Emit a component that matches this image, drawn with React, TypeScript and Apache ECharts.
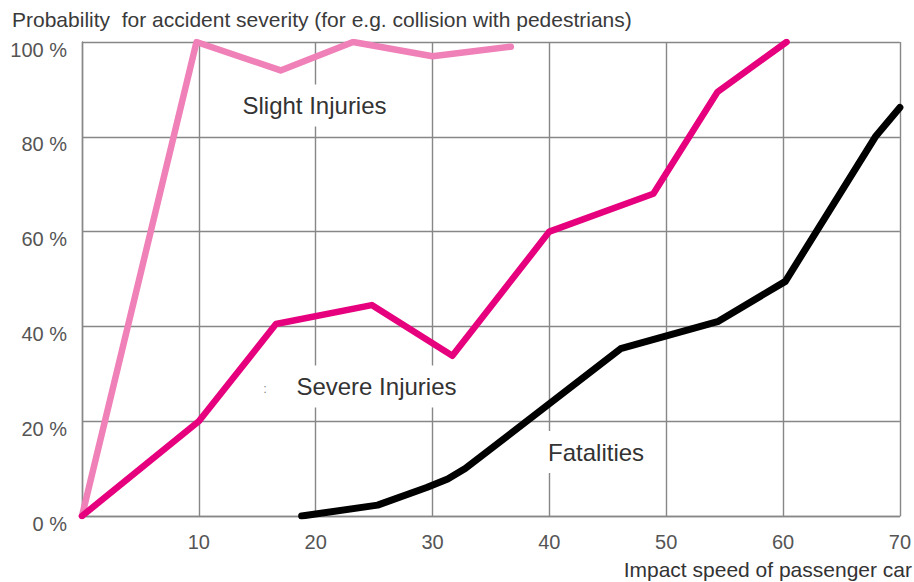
import React, { useEffect, useRef } from "react";
import * as echarts from "echarts";

// Impact speed (km/h) and probability (%)
const slightSpeed = [0, 9.8, 17, 23.2, 30, 36.7];
const slightProb = [0, 100, 94, 100, 97, 99];

const severeSpeed = [0, 10, 16.6, 24.8, 31.7, 40, 48.9, 54.4, 60.3];
const severeProb = [0, 20, 40.5, 44.5, 33.8, 60, 68, 89.5, 100];

const fatalSpeed = [18.8, 25.3, 29.5, 31.3, 32.8, 46.1, 54.4, 60.2, 67.9, 70];
const fatalProb = [0, 2.3, 6, 7.8, 10, 35.3, 41, 49.5, 80, 86.2];

const xTicks = [0, 10, 20, 30, 40, 50, 60, 70];
const yTicks = [0, 20, 40, 60, 80, 100];

const titleText = "Probability  for accident severity (for e.g. collision with pedestrians)";
const xAxisName = "Impact speed of passenger car";

// series labels placed in data coordinates [speed, probability]
const labelNames = ["Slight Injuries", "Severe Injuries", "Fatalities"];
const labelSpeed = [19.9, 25.2, 44.0];
const labelProb = [86.6, 27.3, 13.5];

const FONT = "'Liberation Sans', Arial, sans-serif";
const NARROW = "'Liberation Sans Narrow', 'Arial Narrow', 'Liberation Sans', sans-serif";

const zip = (xs: number[], ys: number[]) => xs.map((x, i) => [x, ys[i]]);

export default function App() {
  const ref = useRef<HTMLDivElement>(null);
  useEffect(() => {
    if (!ref.current) return;
    const chart = echarts.init(ref.current, undefined, { renderer: "svg" });
    const gridColor = "#878787";
    chart.setOption({
      animation: false,
      backgroundColor: "#ffffff",
      grid: { left: 82, right: 13, top: 42, bottom: 66 },
      xAxis: {
        type: "value",
        min: xTicks[0],
        max: xTicks[xTicks.length - 1],
        interval: 10,
        axisLine: { show: true, lineStyle: { color: gridColor, width: 1.4 } },
        axisTick: { show: false },
        splitLine: { show: true, lineStyle: { color: gridColor, width: 1.4 } },
        axisLabel: {
          formatter: (v: number) => (v === 0 ? "" : String(v)),
          fontFamily: NARROW,
          fontSize: 20,
          color: "#555555",
          margin: 16,
          showMaxLabel: true,
        },
      },
      yAxis: {
        type: "value",
        min: yTicks[0],
        max: yTicks[yTicks.length - 1],
        interval: 20,
        axisLine: { show: true, lineStyle: { color: gridColor, width: 1.4 } },
        axisTick: { show: false },
        splitLine: { show: true, lineStyle: { color: gridColor, width: 1.4 } },
        axisLabel: {
          formatter: (v: number) => v + " %",
          fontFamily: NARROW,
          fontSize: 20,
          color: "#555555",
          margin: 15,
          verticalAlign: "top",
          lineHeight: 15,
        },
      },
      series: [
        {
          name: "Slight Injuries",
          type: "line",
          data: zip(slightSpeed, slightProb),
          symbol: "none",
          z: 3,
          lineStyle: { color: "#ef80b8", width: 6.5, cap: "round", join: "round" },
        },
        {
          name: "Severe Injuries",
          type: "line",
          data: zip(severeSpeed, severeProb),
          symbol: "none",
          z: 4,
          lineStyle: { color: "#e6007e", width: 6.5, cap: "round", join: "round" },
        },
        {
          name: "Fatalities",
          type: "line",
          data: zip(fatalSpeed, fatalProb),
          symbol: "none",
          z: 5,
          lineStyle: { color: "#000000", width: 7, cap: "round", join: "round" },
        },
      ],
    });

    const labels = labelNames.map((name, i) => {
      const p = chart.convertToPixel({ gridIndex: 0 }, [labelSpeed[i], labelProb[i]]) as number[];
      return {
        type: "text",
        x: p[0],
        y: p[1],
        z: 10,
        style: {
          text: name,
          fontFamily: FONT,
          fontSize: 24,
          fill: "#333333",
          align: "center",
          verticalAlign: "middle",
          backgroundColor: "#ffffff",
          padding: [9, 12, 9, 12],
        },
      };
    });

    chart.setOption({
      graphic: [
        {
          type: "text",
          left: 12,
          top: 9,
          style: { text: titleText, fontFamily: FONT, fontSize: 21, fill: "#3a3a3a" },
        },
        {
          type: "text",
          right: 2,
          top: 559,
          style: { text: xAxisName, fontFamily: FONT, fontSize: 21, fill: "#333333" },
        },
        {
          type: "text",
          x: 265,
          y: 388,
          z: 10,
          style: {
            text: ":",
            fontFamily: FONT,
            fontSize: 13,
            fill: "#888888",
            align: "center",
            verticalAlign: "middle",
          },
        },
        ...labels,
      ],
    });

    return () => chart.dispose();
  }, []);
  return (
    <div
      ref={ref}
      style={{ position: "absolute", left: 0, top: 0, width: 914, height: 582 }}
    />
  );
}
